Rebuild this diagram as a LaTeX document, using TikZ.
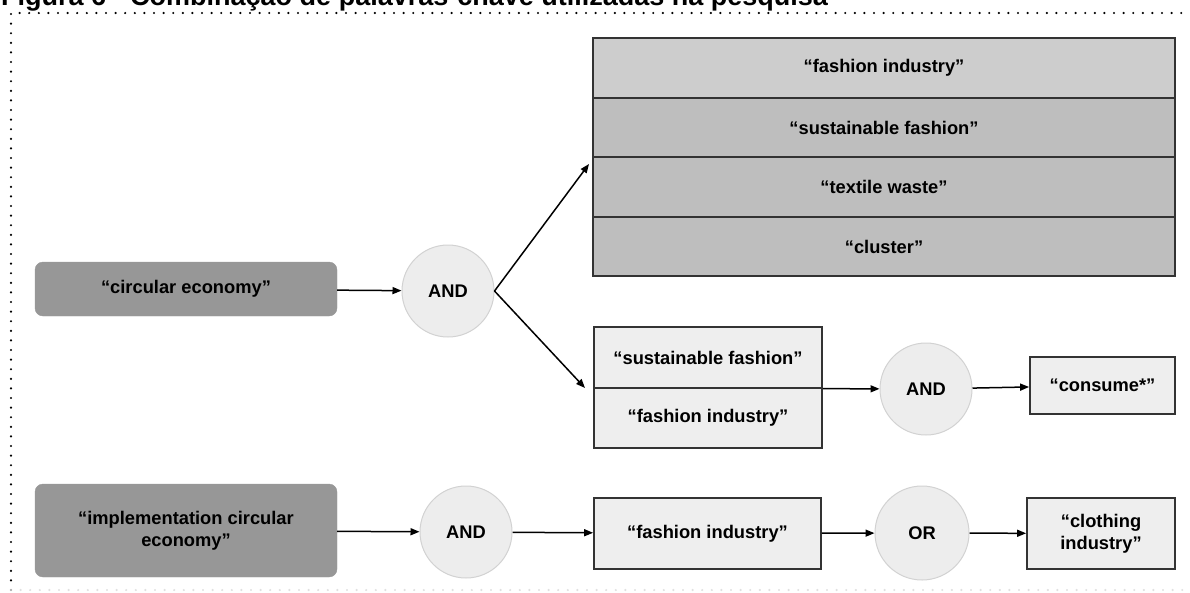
\documentclass[tikz,border=0pt]{standalone}
\usepackage{fontspec}
\setmainfont{Liberation Sans}
\usetikzlibrary{arrows.meta}
\definecolor{darkbox}{HTML}{979797}
\definecolor{rowlight}{HTML}{CDCDCD}
\definecolor{rowdark}{HTML}{BEBEBE}
\definecolor{paleboxfill}{HTML}{EEEEEE}
\definecolor{circfill}{HTML}{EDEDED}
\definecolor{circline}{HTML}{D2D2D2}
\definecolor{edge}{HTML}{333333}
\begin{document}
\begin{tikzpicture}[x=1pt,y=-1pt,
  every node/.style={font=\bfseries\fontsize{18.3}{22}\selectfont, text=black},
  termbox/.style={draw=darkbox, fill=darkbox, rounded corners=8pt, align=center, inner sep=0pt},
  rowbox/.style={draw=edge, line width=1.8pt, minimum width=582pt, minimum height=59.5pt, inner sep=0pt},
  palebox/.style={draw=edge, line width=1.8pt, fill=paleboxfill, align=center, inner sep=0pt},
  opnode/.style={circle, draw=circline, line width=1pt, fill=circfill, minimum size=92pt, inner sep=0pt},
  link/.style={line width=1.5pt, -{Triangle[length=9pt,width=7pt]}},
  framedots/.style={line width=2.4pt, line cap=round, dash pattern=on 0pt off 9.6pt}]
\useasboundingbox (0,0) rectangle (1190,592);
\clip (0,0) rectangle (1190,592);

% caption line and dotted frame
\node[anchor=base west, inner sep=0pt, font=\bfseries\fontsize{27}{30}\selectfont] (title) at (1,5.5)
  {Figura 6 - Combinação de palavras-chave utilizadas na pesquisa};
\draw[framedots] (11,590) -- (11,13) -- (1190,13);
\draw[framedots, black!12] (11,590) -- (1190,590);

% first query: circular economy AND ...
\node[termbox, minimum width=302pt, minimum height=54pt] (ce) at (186,289) {“circular economy”};
\node[opnode] (and1) at (448,291) {AND};

\node[rowbox, fill=rowlight] (t1) at (884,68) {“fashion industry”};
\node[rowbox, fill=rowdark]  (t2) at (884,127.5) {“sustainable fashion”};
\node[rowbox, fill=rowdark]  (t3) at (884,187) {“textile waste”};
\node[rowbox, fill=rowdark]  (t4) at (884,246.5) {“cluster”};

\node[palebox, minimum width=228pt, minimum height=60.5pt] (s1) at (708,357.5) {“sustainable fashion”};
\node[palebox, minimum width=228pt, minimum height=60.5pt] (s2) at (708,418) {“fashion industry”};
\node[opnode] (and2) at (926,389) {AND};
\node[palebox, minimum width=145pt, minimum height=57pt] (cons) at (1102.5,385.5) {“consume*”};

\coordinate (upEnd) at (589,164);
\coordinate (downEnd) at (585,388);

\draw[link] (ce) -- (and1);
\draw[link] (and1.east) -- (upEnd);
\draw[link] (and1.east) -- (downEnd);
\draw[link] (s1.south east) -- (and2);
\draw[link] (and2) -- (cons);

% second query: implementation circular economy AND ... OR ...
\node[termbox, minimum width=302pt, minimum height=93pt] (impl) at (186,530.5) {“implementation circular\\economy”};
\node[opnode] (and3) at (466,532) {AND};
\node[palebox, minimum width=227pt, minimum height=71pt] (fi) at (707.5,533.5) {“fashion industry”};
\node[opnode, minimum size=94pt] (or) at (922,533) {OR};
\node[palebox, minimum width=148pt, minimum height=71pt] (cl) at (1101,533.5) {“clothing\\industry”};

\draw[link] (impl) -- (and3);
\draw[link] (and3) -- (fi);
\draw[link] (fi) -- (or);
\draw[link] (or) -- (cl);
\end{tikzpicture}
\end{document}
